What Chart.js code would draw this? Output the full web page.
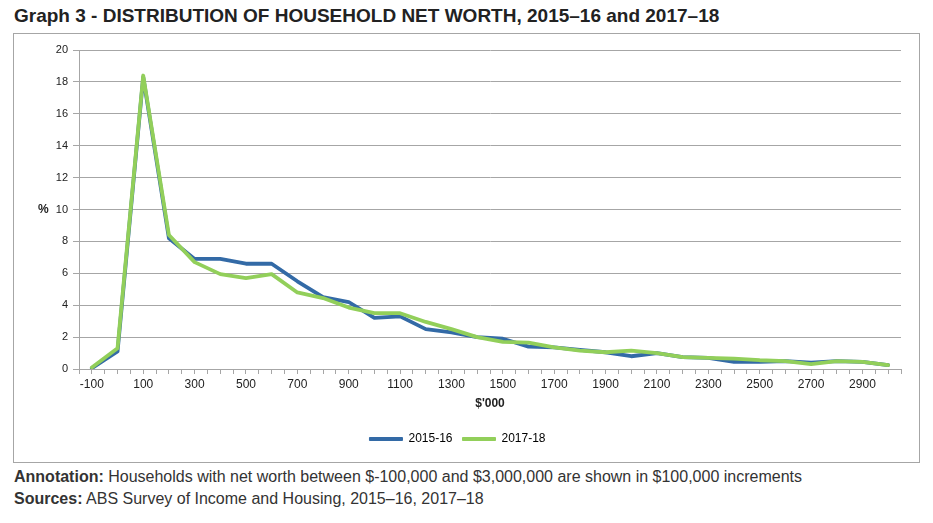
<!DOCTYPE html>
<html>
<head>
<meta charset="utf-8">
<script src="https://cdn.jsdelivr.net/npm/chart.js@4"></script>
<style>
  body { margin:0; background:#fff; font-family:"Liberation Sans", Arial, sans-serif; color:#333; }
  #title { position:absolute; left:14px; top:5px; font-size:19px; font-weight:bold; color:#222; white-space:nowrap; }
  #box { position:absolute; left:13px; top:33px; width:905px; height:428px; border:1px solid #a6a6a6; }
  #note, #src { position:absolute; left:14px; font-size:16px; white-space:nowrap; color:#333; }
  #note { top:468px; }
  #src { top:490px; }
</style>
</head>
<body>
<div id="title">Graph 3 - DISTRIBUTION OF HOUSEHOLD NET WORTH, 2015–16 and 2017–18</div>
<div id="box"><canvas id="c" width="905" height="428"></canvas></div>
<div id="note"><b>Annotation:</b> Households with net worth between $-100,000 and $3,000,000 are shown in $100,000 increments</div>
<div id="src"><b>Sources:</b> ABS Survey of Income and Housing, 2015–16, 2017–18</div>
<script>
/* ––––– data ––––– */
const netWorth = [-100, 0, 100, 200, 300, 400, 500, 600, 700, 800, 900, 1000, 1100, 1200, 1300, 1400,
                  1500, 1600, 1700, 1800, 1900, 2000, 2100, 2200, 2300, 2400, 2500, 2600, 2700, 2800, 2900, 3000];
const y2015 = [0.05, 1.1, 18.3, 8.2, 6.9, 6.9, 6.6, 6.6, 5.5, 4.5, 4.2, 3.2, 3.3, 2.5, 2.3, 2.0,
               1.9, 1.4, 1.35, 1.2, 1.05, 0.8, 1.0, 0.75, 0.7, 0.45, 0.45, 0.5, 0.4, 0.5, 0.45, 0.25];
const y2017 = [0.1, 1.3, 18.4, 8.4, 6.7, 5.95, 5.7, 5.95, 4.8, 4.45, 3.85, 3.5, 3.5, 2.95, 2.5, 2.0,
               1.7, 1.65, 1.35, 1.15, 1.05, 1.15, 1.0, 0.75, 0.7, 0.65, 0.55, 0.5, 0.3, 0.5, 0.45, 0.25];
const seriesNames = ['2015-16', '2017-18'];
const xTickLabels = [-100, 100, 300, 500, 700, 900, 1100, 1300, 1500, 1700, 1900, 2100, 2300, 2500, 2700, 2900];

const BLUE = '#336aa6', GREEN = '#92cf5a', GRID = '#a6a6a6';
const FONT = '"Liberation Sans", Arial, sans-serif';
const pts = ys => netWorth.map((x, i) => ({x, y: ys[i]}));

/* "%" sits beside the 10 tick */
const pctLabel = {
  id: 'pctLabel',
  afterDraw(chart){
    const ctx = chart.ctx, y = chart.scales.y.getPixelForValue(10);
    ctx.save();
    ctx.font = 'bold 12px ' + FONT;
    ctx.fillStyle = '#222';
    ctx.textAlign = 'left'; ctx.textBaseline = 'middle';
    ctx.fillText('%', 24, y);
    ctx.restore();
  }
};

new Chart(document.getElementById('c'), {
  type: 'line',
  data: { datasets: [
    {label: seriesNames[0], data: pts(y2015), borderColor: BLUE, backgroundColor: BLUE, order: 1},
    {label: seriesNames[1], data: pts(y2017), borderColor: GREEN, backgroundColor: GREEN, order: 0}
  ]},
  options: {
    responsive: false, animation: false,
    layout: {padding: {top: 16, right: 18, left: 0, bottom: 7}},
    elements: {
      line: {borderWidth: 3.8, tension: 0, borderJoinStyle: 'round', borderCapStyle: 'round'},
      point: {radius: 0}
    },
    plugins: {
      tooltip: {enabled: false},
      legend: {
        position: 'bottom',
        labels: {
          boxWidth: 33, boxHeight: 3, padding: 10, color: '#222',
          font: {family: FONT, size: 12},
          generateLabels: () => seriesNames.map((t, i) => ({
            text: t, fillStyle: [BLUE, GREEN][i], strokeStyle: [BLUE, GREEN][i],
            lineWidth: 1, datasetIndex: i, hidden: false
          }))
        }
      }
    },
    scales: {
      x: {
        type: 'linear', min: -150, max: 3050,
        afterFit: s => { s.height = 54; },
        ticks: {
          stepSize: 50, autoSkip: false, maxRotation: 0, padding: 3,
          color: '#222', font: {family: FONT, size: 12},
          callback: v => xTickLabels.includes(Math.round(v)) ? Math.round(v) : ''
        },
        grid: {drawOnChartArea: false, tickLength: 5, color: GRID},
        border: {color: GRID},
        title: {display: true, text: "$'000", color: '#222', padding: 12,
                font: {family: FONT, size: 12, weight: 'bold'}}
      },
      y: {
        min: 0, max: 20,
        afterFit: s => { s.width = 65; },
        ticks: {stepSize: 2, padding: 5, color: '#222', font: {family: FONT, size: 11}},
        grid: {color: GRID, tickLength: 6},
        border: {color: GRID}
      }
    }
  },
  plugins: [pctLabel]
});
</script>
</body>
</html>
